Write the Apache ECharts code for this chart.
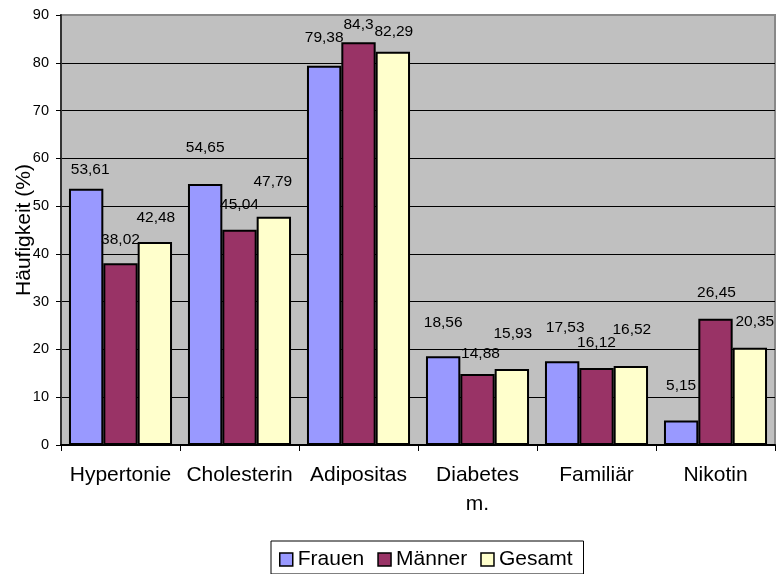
<!DOCTYPE html>
<html>
<head>
<meta charset="utf-8">
<script src="https://cdn.jsdelivr.net/npm/echarts@6/dist/echarts.min.js"></script>
<style>
  html, body { margin: 0; padding: 0; background: #fff; }
  #chart { width: 776px; height: 574px; }
</style>
</head>
<body>
<div id="chart"></div>
<script>
// Risikofaktoren: Häufigkeit in Prozent nach Geschlecht
const categories = ['Hypertonie', 'Cholesterin', 'Adipositas', 'Diabetes\nm.', 'Familiär', 'Nikotin'];
const seriesNames = ['Frauen', 'Männer', 'Gesamt'];
const frauen = [53.61, 54.65, 79.38, 18.56, 17.53, 5.15];
const maenner = [38.02, 45.04, 84.3, 14.88, 16.12, 26.45];
const gesamt = [42.48, 47.79, 82.29, 15.93, 16.52, 20.35];
const yTicks = { min: 0, max: 90, step: 10 };

// label placement above each bar (lift of the text centre, horizontal nudge)
const labelLift = [
  [19, 36, 28, 34, 34, 35],
  [24, 25, 18, 20, 25, 26],
  [24, 35, 20, 35, 36, 26]
];
const labelNudge = [
  [4, 0, 0, 0, 3, 0],
  [0, 0, 0, 3, 0, 1],
  [1, -1, 1, 1, 1, 5]
];

const colors = ['#9999ff', '#993366', '#ffffcc'];
const values = [frauen, maenner, gesamt];
const fmt = v => String(v).replace('.', ',');
const FONT = '"Liberation Sans", Arial, sans-serif';

const series = values.map((vals, s) => ({
  name: seriesNames[s],
  type: 'bar',
  barGap: '0%',
  barCategoryGap: '13.4%',
  itemStyle: { color: colors[s], borderColor: '#000', borderWidth: 2 },
  emphasis: { disabled: true },
  data: vals.map((v, i) => ({
    value: v,
    label: {
      show: true,
      position: 'top',
      distance: 0,
      offset: [labelNudge[s][i], -(labelLift[s][i] - 8)],
      formatter: () => fmt(v),
      color: '#000',
      fontFamily: FONT,
      fontSize: 15.5,
      lineHeight: 16
    }
  }))
}));

const chart = echarts.init(document.getElementById('chart'));
chart.setOption({
  animation: false,
  color: colors,
  textStyle: { fontFamily: FONT },
  grid: {
    left: 61, right: 1, top: 15, bottom: 129,
    outerBoundsMode: 'none',
    containLabel: false,
    show: true,
    backgroundColor: '#c0c0c0',
    borderColor: '#888',
    borderWidth: 2
  },
  legend: {
    data: seriesNames,
    left: 271,
    top: 541,
    orient: 'horizontal',
    icon: 'rect',
    itemWidth: 13,
    itemHeight: 13,
    itemGap: 13,
    padding: [8, 11, 4, 8],
    borderColor: '#000',
    borderWidth: 1,
    backgroundColor: '#fff',
    itemStyle: { borderColor: '#000', borderWidth: 1.5 },
    textStyle: { fontFamily: FONT, fontSize: 21, color: '#000', padding: [0, 0, 0, 0] },
    selectedMode: false
  },
  xAxis: {
    type: 'category',
    data: categories,
    axisLine: { lineStyle: { color: '#000', width: 2 } },
    axisTick: { show: true, length: 6, lineStyle: { color: '#000', width: 1 } },
    axisLabel: {
      color: '#000',
      fontFamily: FONT,
      fontSize: 21,
      lineHeight: 29,
      margin: 16,
      interval: 0
    },
    splitLine: { show: false }
  },
  yAxis: {
    type: 'value',
    min: yTicks.min,
    max: yTicks.max,
    interval: yTicks.step,
    name: 'Häufigkeit (%)',
    nameLocation: 'middle',
    nameGap: 26,
    nameRotate: 90,
    nameMoveOverlap: false,
    nameTextStyle: { color: '#000', fontFamily: FONT, fontSize: 21 },
    axisLine: { show: true, lineStyle: { color: '#333', width: 2 } },
    axisTick: { show: true, inside: false, length: 5, lineStyle: { color: '#000', width: 1 } },
    axisLabel: { color: '#000', fontFamily: FONT, fontSize: 14.5, margin: 12 },
    splitLine: { show: true, showMaxLine: false, lineStyle: { color: '#000', width: 1 } }
  },
  series: series
});
</script>
</body>
</html>
